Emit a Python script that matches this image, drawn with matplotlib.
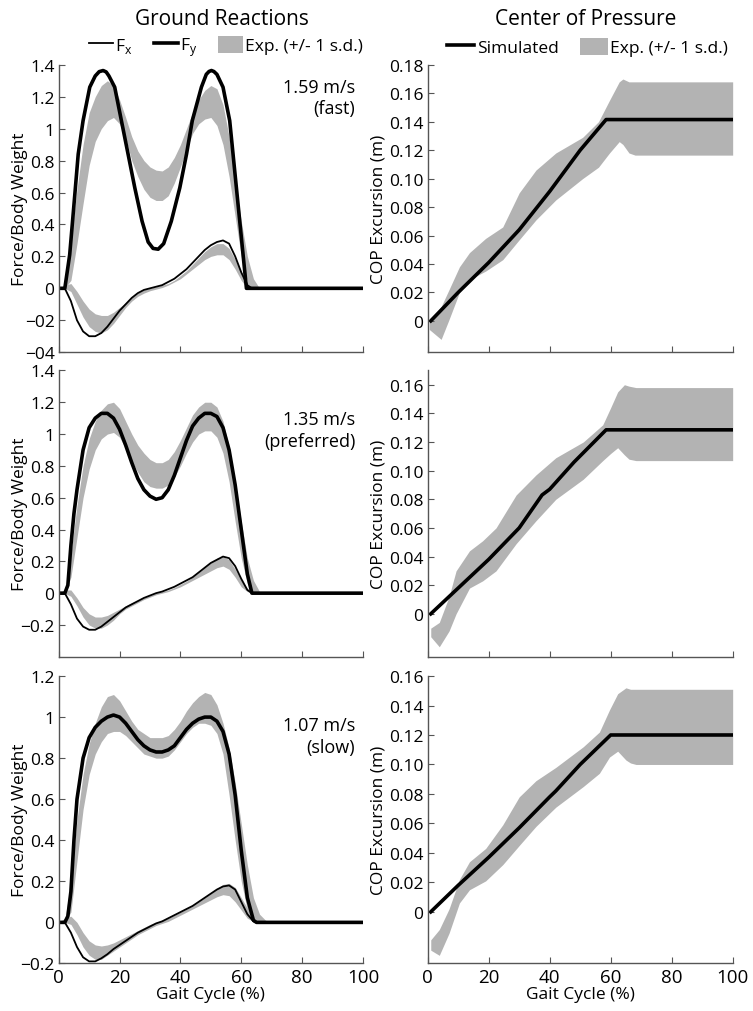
import numpy as np
import matplotlib.pyplot as plt
from matplotlib.lines import Line2D
from matplotlib.patches import Patch

plt.rcParams['font.family'] = ['Open Sans', 'DejaVu Sans']

GRAY = '#b3b3b3'
AXC = '#555555'

# ---------------- ground reactions (gait cycle %) ----------------
# fast 1.59 m/s
fy_fast_x = [0, 2, 3.6, 5.3, 6.4, 8, 10.2, 12, 13.3, 14.6, 15.6, 16.5, 18.4, 20.6, 22.8, 25, 27.4, 29.4, 31, 32.7, 34.5, 37, 39.8, 42, 43.9, 46.9, 48.5, 49.4, 50.2, 51, 52, 54, 56.2, 57.3, 58.4, 59.5, 60.6, 61.7, 100]
fy_fast = [0, 0, 0.21, 0.59, 0.84, 1.05, 1.26, 1.33, 1.357, 1.364, 1.355, 1.33, 1.26, 1.05, 0.84, 0.63, 0.42, 0.29, 0.25, 0.245, 0.28, 0.42, 0.63, 0.84, 1.05, 1.26, 1.34, 1.358, 1.364, 1.358, 1.34, 1.26, 1.05, 0.84, 0.63, 0.42, 0.21, 0, 0]
band_x = [0, 2, 4, 6, 8, 10, 12, 14, 16, 18, 20, 22, 24, 26, 28, 30, 32, 34, 36, 38, 40, 42, 44, 46, 48, 50, 52, 54, 56, 58, 60, 62, 64, 66, 68, 100]
fy_fast_hi = [0, 0, 0.3, 0.62, 0.9, 1.1, 1.2, 1.27, 1.3, 1.27, 1.18, 1.07, 0.95, 0.86, 0.8, 0.76, 0.74, 0.735, 0.76, 0.82, 0.9, 1.0, 1.1, 1.18, 1.24, 1.27, 1.25, 1.15, 0.95, 0.68, 0.42, 0.2, 0.06, 0, 0, 0]
fy_fast_lo = [0, 0, 0.05, 0.28, 0.53, 0.77, 0.92, 1.0, 1.05, 1.07, 1.03, 0.94, 0.8, 0.7, 0.62, 0.57, 0.55, 0.55, 0.58, 0.66, 0.76, 0.87, 0.97, 1.03, 1.06, 1.07, 1.02, 0.9, 0.7, 0.45, 0.2, 0.04, 0, 0, 0, 0]
fx_x = [0, 2, 4, 6, 8, 10, 12, 14, 16, 18, 20, 22, 24, 26, 28, 30, 32, 34, 36, 38, 40, 42, 44, 46, 48, 50, 52, 54, 56, 58, 60, 62, 63.5, 100]
fx_fast = [0, 0, -0.08, -0.2, -0.27, -0.3, -0.3, -0.28, -0.24, -0.19, -0.14, -0.1, -0.06, -0.03, -0.01, 0.0, 0.01, 0.02, 0.04, 0.06, 0.09, 0.12, 0.16, 0.2, 0.24, 0.27, 0.29, 0.3, 0.28, 0.2, 0.1, 0.02, 0, 0]
fx_fast_hi = [0, 0.02, 0.03, -0.02, -0.08, -0.13, -0.16, -0.17, -0.17, -0.15, -0.12, -0.09, -0.06, -0.03, -0.01, 0.0, 0.01, 0.02, 0.03, 0.05, 0.08, 0.11, 0.15, 0.19, 0.23, 0.26, 0.28, 0.28, 0.25, 0.18, 0.1, 0.04, 0.02, 0, 0, 0]
fx_fast_lo = [0, 0, -0.02, -0.1, -0.18, -0.24, -0.27, -0.28, -0.26, -0.22, -0.17, -0.12, -0.08, -0.05, -0.03, -0.015, -0.005, 0.005, 0.02, 0.04, 0.06, 0.09, 0.12, 0.15, 0.18, 0.2, 0.21, 0.21, 0.18, 0.12, 0.05, 0.0, 0, 0, 0, 0]

# preferred 1.35 m/s
fy_pref_x = [0, 2, 3, 4, 5, 6, 8, 10, 12, 14, 16, 18, 20, 22, 24, 26, 28, 30, 32, 34, 36, 38, 40, 42, 44, 46, 48, 50, 52, 54, 56, 58, 60, 62, 63.5, 100]
fy_pref = [0, 0, 0.05, 0.3, 0.5, 0.65, 0.9, 1.04, 1.1, 1.13, 1.13, 1.1, 1.03, 0.93, 0.82, 0.72, 0.65, 0.61, 0.59, 0.6, 0.65, 0.74, 0.85, 0.96, 1.05, 1.1, 1.13, 1.13, 1.11, 1.04, 0.9, 0.68, 0.4, 0.12, 0, 0]
fy_pref_hi = [0, 0, 0.25, 0.55, 0.8, 0.97, 1.08, 1.15, 1.19, 1.2, 1.16, 1.08, 1.0, 0.93, 0.88, 0.84, 0.82, 0.82, 0.84, 0.89, 0.96, 1.04, 1.12, 1.17, 1.2, 1.2, 1.17, 1.08, 0.92, 0.7, 0.45, 0.22, 0.08, 0.01, 0, 0]
fy_pref_lo = [0, 0, 0.1, 0.35, 0.6, 0.78, 0.9, 0.97, 1.0, 1.01, 0.98, 0.91, 0.83, 0.76, 0.7, 0.67, 0.66, 0.66, 0.68, 0.73, 0.8, 0.88, 0.95, 1.0, 1.02, 1.02, 0.98, 0.88, 0.7, 0.45, 0.22, 0.06, 0, 0, 0, 0]
fx_pref = [0, 0, -0.07, -0.16, -0.21, -0.23, -0.23, -0.21, -0.18, -0.15, -0.12, -0.09, -0.07, -0.05, -0.03, -0.015, 0.0, 0.01, 0.025, 0.04, 0.06, 0.08, 0.1, 0.13, 0.16, 0.19, 0.21, 0.23, 0.22, 0.17, 0.09, 0.02, 0, 0]
fx_pref_hi = [0, 0.02, 0.02, -0.03, -0.09, -0.13, -0.15, -0.15, -0.14, -0.12, -0.1, -0.08, -0.06, -0.045, -0.03, -0.015, 0.0, 0.01, 0.02, 0.035, 0.055, 0.075, 0.1, 0.13, 0.16, 0.19, 0.22, 0.23, 0.21, 0.15, 0.08, 0.03, 0.01, 0, 0, 0]
fx_pref_lo = [0, 0, -0.02, -0.08, -0.15, -0.2, -0.22, -0.22, -0.2, -0.17, -0.13, -0.1, -0.08, -0.06, -0.04, -0.025, -0.01, 0.0, 0.01, 0.025, 0.04, 0.06, 0.08, 0.1, 0.12, 0.14, 0.16, 0.17, 0.15, 0.1, 0.04, 0.01, 0, 0, 0, 0]

# slow 1.07 m/s
fy_slow_x = [0, 2, 3, 4, 5, 6, 8, 10, 12, 14, 16, 18, 20, 22, 24, 26, 28, 30, 32, 34, 36, 38, 40, 42, 44, 46, 48, 50, 52, 54, 56, 58, 60, 62, 64, 65, 100]
fy_slow = [0, 0, 0.03, 0.15, 0.4, 0.6, 0.8, 0.9, 0.95, 0.98, 1.0, 1.01, 1.0, 0.97, 0.93, 0.89, 0.86, 0.84, 0.83, 0.83, 0.84, 0.86, 0.9, 0.94, 0.97, 0.99, 1.0, 1.0, 0.98, 0.93, 0.82, 0.62, 0.35, 0.12, 0.01, 0, 0]
band_slow_x = [0, 2, 4, 6, 8, 10, 12, 14, 16, 18, 20, 22, 24, 26, 28, 30, 32, 34, 36, 38, 40, 42, 44, 46, 48, 50, 52, 54, 56, 58, 60, 62, 64, 66, 68, 70, 100]
fy_slow_hi = [0, 0.01, 0.2, 0.5, 0.72, 0.87, 0.97, 1.05, 1.1, 1.11, 1.08, 1.03, 0.98, 0.94, 0.92, 0.9, 0.9, 0.9, 0.91, 0.94, 0.98, 1.03, 1.07, 1.1, 1.12, 1.11, 1.06, 0.97, 0.85, 0.68, 0.48, 0.28, 0.12, 0.04, 0.01, 0, 0]
fy_slow_lo = [0, 0, 0.05, 0.3, 0.55, 0.72, 0.82, 0.88, 0.92, 0.93, 0.93, 0.91, 0.88, 0.85, 0.82, 0.81, 0.8, 0.8, 0.81, 0.84, 0.88, 0.92, 0.95, 0.97, 0.97, 0.96, 0.92, 0.82, 0.62, 0.4, 0.2, 0.06, 0.01, 0, 0, 0, 0]
fx_slow_x = [0, 2, 4, 6, 8, 10, 12, 14, 16, 18, 20, 22, 24, 26, 28, 30, 32, 34, 36, 38, 40, 42, 44, 46, 48, 50, 52, 54, 56, 58, 60, 62, 64, 65, 100]
fx_slow = [0, 0, -0.05, -0.12, -0.17, -0.19, -0.19, -0.175, -0.155, -0.13, -0.11, -0.09, -0.07, -0.05, -0.035, -0.02, -0.005, 0.005, 0.02, 0.035, 0.05, 0.065, 0.08, 0.1, 0.12, 0.14, 0.16, 0.175, 0.18, 0.16, 0.1, 0.04, 0.005, 0, 0]
fx_slow_hi = [0, 0.02, 0.03, 0.0, -0.05, -0.09, -0.11, -0.115, -0.11, -0.1, -0.085, -0.07, -0.055, -0.04, -0.025, -0.01, 0.0, 0.01, 0.02, 0.035, 0.05, 0.065, 0.08, 0.1, 0.12, 0.14, 0.165, 0.185, 0.19, 0.17, 0.12, 0.07, 0.03, 0.01, 0, 0, 0]
fx_slow_lo = [0, 0, -0.01, -0.06, -0.12, -0.16, -0.18, -0.18, -0.16, -0.14, -0.12, -0.1, -0.08, -0.06, -0.045, -0.03, -0.015, -0.005, 0.005, 0.02, 0.035, 0.05, 0.065, 0.08, 0.095, 0.11, 0.125, 0.135, 0.13, 0.1, 0.06, 0.02, 0.005, 0, 0, 0, 0]

# ---------------- center of pressure ----------------
cop_fast_x = [1, 10, 20, 30, 40, 50, 58.5, 100]
cop_fast = [0, 0.02, 0.041, 0.064, 0.091, 0.12, 0.1415, 0.1415]
copb_fast_x = [0.5, 4.4, 7, 10.4, 13.7, 19, 24.6, 30, 35.5, 42, 50.8, 56, 59.6, 62.8, 64, 66, 68, 100]
copb_fast_hi = [-0.001, 0.01, 0.022, 0.038, 0.048, 0.058, 0.066, 0.09, 0.106, 0.118, 0.129, 0.14, 0.155, 0.168, 0.17, 0.168, 0.168, 0.168]
copb_fast_lo = [-0.006, -0.013, 0.001, 0.02, 0.029, 0.035, 0.043, 0.057, 0.071, 0.085, 0.1, 0.108, 0.118, 0.126, 0.124, 0.118, 0.1165, 0.1165]

cop_pref_x = [1, 10, 20, 30, 37.5, 40, 48, 58.5, 100]
cop_pref = [0, 0.018, 0.038, 0.06, 0.083, 0.087, 0.106, 0.1285, 0.1285]
copb_pref_x = [1, 3.8, 7, 9.3, 13.7, 18, 22.4, 29, 35.5, 42, 51, 57.4, 60, 62.3, 64.5, 66, 68.3, 100]
copb_pref_hi = [-0.01, -0.006, 0.012, 0.03, 0.044, 0.051, 0.06, 0.083, 0.097, 0.109, 0.12, 0.132, 0.144, 0.155, 0.16, 0.159, 0.158, 0.158]
copb_pref_lo = [-0.016, -0.023, -0.012, 0.0, 0.018, 0.023, 0.03, 0.049, 0.065, 0.08, 0.094, 0.107, 0.112, 0.116, 0.111, 0.108, 0.107, 0.107]

cop_slow_x = [1, 10, 20, 30, 40, 42, 50, 60, 100]
cop_slow = [0, 0.018, 0.037, 0.057, 0.078, 0.082, 0.1, 0.12, 0.12]
copb_slow_x = [1, 3.8, 7, 10.4, 13.7, 19, 24.6, 30, 35.5, 42, 51, 56.3, 59.6, 62.3, 65, 66.5, 68.3, 100]
copb_slow_hi = [-0.019, -0.012, 0.002, 0.022, 0.034, 0.043, 0.059, 0.078, 0.089, 0.098, 0.112, 0.122, 0.137, 0.148, 0.152, 0.151, 0.151, 0.151]
copb_slow_lo = [-0.026, -0.0295, -0.0145, 0.006, 0.015, 0.021, 0.032, 0.045, 0.058, 0.071, 0.085, 0.094, 0.105, 0.109, 0.103, 0.101, 0.1, 0.1]

speeds = ['1.59 m/s\n(fast)', '1.35 m/s\n(preferred)', '1.07 m/s\n(slow)']
left_ylims = [(-0.4, 1.4), (-0.4, 1.4), (-0.2, 1.2)]
left_ticks = [np.arange(-0.4, 1.41, 0.2), np.arange(-0.2, 1.41, 0.2), np.arange(-0.2, 1.21, 0.2)]
right_ylims = [(-0.022, 0.18), (-0.03, 0.17), (-0.035, 0.16)]
right_ticks = [np.arange(0, 0.181, 0.02), np.arange(0, 0.161, 0.02), np.arange(0, 0.161, 0.02)]
x_ticks = [0, 20, 40, 60, 80, 100]

left_data = [
    (fy_fast_x, fy_fast, band_x, fy_fast_hi, fy_fast_lo, fx_x, fx_fast, band_x, fx_fast_hi, fx_fast_lo),
    (fy_pref_x, fy_pref, band_x, fy_pref_hi, fy_pref_lo, fx_x, fx_pref, band_x, fx_pref_hi, fx_pref_lo),
    (fy_slow_x, fy_slow, band_slow_x, fy_slow_hi, fy_slow_lo, fx_slow_x, fx_slow, band_slow_x, fx_slow_hi, fx_slow_lo),
]
right_data = [
    (cop_fast_x, cop_fast, copb_fast_x, copb_fast_hi, copb_fast_lo),
    (cop_pref_x, cop_pref, copb_pref_x, copb_pref_hi, copb_pref_lo),
    (cop_slow_x, cop_slow, copb_slow_x, copb_slow_hi, copb_slow_lo),
]


def left_label(v):
    if abs(v) < 1e-9:
        return '0'
    if abs(v - round(v)) < 1e-9:
        return '%d' % round(v)
    return ('%.1f' % v).replace('-', '\u2212')


def right_label(v):
    if abs(v) < 1e-9:
        return '0'
    return '%.2f' % v


def style(ax, bottom):
    for s in ['top', 'right']:
        ax.spines[s].set_visible(False)
    for s in ['left', 'bottom']:
        ax.spines[s].set_color(AXC)
        ax.spines[s].set_linewidth(1.0)
    ax.tick_params(direction='in', length=4, color=AXC, labelsize=12.5, pad=3)
    ax.set_xlim(0, 100)
    ax.set_xticks(x_ticks)
    if bottom:
        ax.set_xticklabels([str(t) for t in x_ticks], fontsize=13.5)
        ax.set_xlabel('Gait Cycle (%)', fontsize=12.5, labelpad=0)
    else:
        ax.set_xticklabels([])


fig = plt.figure(figsize=(7.53, 10.12), dpi=100)
rows = [(0.651, 0.284), (0.350, 0.283), (0.047, 0.284)]

for i in range(3):
    b, h = rows[i]
    axl = fig.add_axes([0.078, b, 0.404, h])
    axr = fig.add_axes([0.568, b, 0.405, h])

    fyx, fy, bx, fyhi, fylo, fxx, fx, bx2, fxhi, fxlo = left_data[i]
    axl.fill_between(bx, fylo, fyhi, color=GRAY, lw=0)
    axl.fill_between(bx2, fxlo, fxhi, color=GRAY, lw=0)
    axl.plot(fxx, fx, color='black', lw=1.3)
    axl.plot(fyx, fy, color='black', lw=2.6, solid_joinstyle='round')
    axl.set_ylim(*left_ylims[i])
    axl.set_yticks(left_ticks[i])
    labs = [left_label(v) for v in left_ticks[i]]
    if i == 0:
        labs[0] = '\u221204'
        labs[1] = '\u221202'
    axl.set_yticklabels(labs)
    style(axl, i == 2)
    axl.set_ylabel('Force/Body Weight', fontsize=12.5)
    axl.yaxis.set_label_coords(-0.10, 0.5)
    axl.text(0.975, 0.955 if i == 0 else 0.86, speeds[i], transform=axl.transAxes,
             ha='right', va='top', fontsize=13, linespacing=1.25)

    cx, cy, cbx, chi, clo = right_data[i]
    axr.fill_between(cbx, clo, chi, color=GRAY, lw=0)
    axr.plot(cx, cy, color='black', lw=2.6)
    axr.set_ylim(*right_ylims[i])
    axr.set_yticks(right_ticks[i])
    axr.set_yticklabels([right_label(v) for v in right_ticks[i]])
    style(axr, i == 2)
    axr.set_ylabel('COP Excursion (m)', fontsize=12.5)
    axr.yaxis.set_label_coords(-0.135, 0.5)

fig.text(0.295, 0.981, 'Ground Reactions', ha='center', va='center', fontsize=15)
fig.text(0.778, 0.981, 'Center of Pressure', ha='center', va='center', fontsize=15)

h_left = [Line2D([], [], color='black', lw=1.3), Line2D([], [], color='black', lw=2.6),
          Patch(facecolor=GRAY, edgecolor='none')]
fig.legend(h_left, ['F$_\\mathregular{x}$', 'F$_\\mathregular{y}$', 'Exp. (+/- 1 s.d.)'],
           loc='center', bbox_to_anchor=(0.30, 0.9525), ncol=3, frameon=False, fontsize=12.5,
           handlelength=1.4, handleheight=1.1, handletextpad=0.15, columnspacing=1.2,
           borderpad=0)
h_right = [Line2D([], [], color='black', lw=2.6), Patch(facecolor=GRAY, edgecolor='none')]
fig.legend(h_right, ['Simulated', 'Exp. (+/- 1 s.d.)'],
           loc='center', bbox_to_anchor=(0.78, 0.9525), ncol=2, frameon=False, fontsize=12.5,
           handlelength=1.6, handleheight=1.1, handletextpad=0.15, columnspacing=1.2,
           borderpad=0)

fig.savefig('out.png', dpi=100)
